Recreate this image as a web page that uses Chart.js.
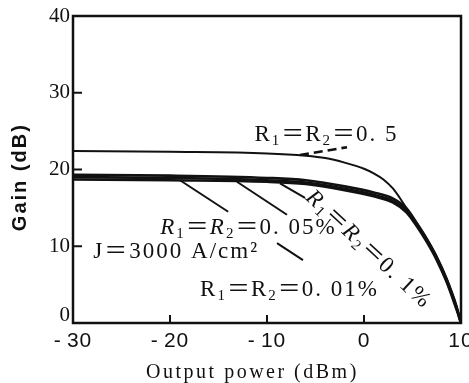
<!DOCTYPE html>
<html>
<head>
<meta charset="utf-8">
<script src="https://cdn.jsdelivr.net/npm/chart.js@4.4.0/dist/chart.umd.min.js"></script>
<style>
    html, body { margin: 0; padding: 0; background: #fff; }
    #wrap { width: 469px; height: 383px; }
</style>
</head>
<body>
<div id="wrap"><canvas id="gainChart"></canvas></div>
<script>
// output power (dBm) / gain (dB)
const powerUpper = [-30, -20, -10, -6, -4, -2, 0, 1, 2, 3, 4, 4.4, 5.5, 6.5, 7.5, 8.5, 9.5, 10];
const gainR05    = [22.4, 22.3, 22.1, 21.8, 21.5, 20.9, 20.1, 19.5, 18.7, 17.5, 15.7, 14.9, 12.9, 10.9, 8.6, 5.8, 2.3, 0];

const powerLower = [-30, -20, -10, -6, -2, 1, 3, 4.4, 5.5, 6.5, 7.5, 8.5, 9.5, 10];
const gainR01    = [19.3, 19.2, 18.9, 18.6, 17.8, 17.0, 16.2, 14.9, 12.9, 10.9, 8.6, 5.8, 2.3, 0];
const gainR005   = [19.0, 18.9, 18.6, 18.3, 17.5, 16.7, 15.9, 14.6, 12.7, 10.7, 8.4, 5.6, 2.1, 0];
const gainR001   = [18.7, 18.6, 18.4, 18.1, 17.3, 16.5, 15.7, 14.4, 12.5, 10.5, 8.2, 5.4, 1.9, 0];

const xTicks = [-30, -20, -10, 0, 10];
const yTicks = [0, 10, 20, 30, 40];

// leader lines from the curves to their labels (data coords)
const leaders = [
    { pts: [[-18.97, 18.6], [-14.0, 14.5]] },
    { pts: [[-13.1, 18.4], [-7.94, 14.1]] },
    { pts: [[-8.66, 18.2], [-6.08, 16.3]] },
    { pts: [[-8.97, 10.4], [-6.29, 8.2]] },
    { pts: [[-6.6, 21.9], [-1.75, 22.9]], dash: [9, 5] }
];

const toXY = (xs, ys) => xs.map((x, i) => ({ x: x, y: ys[i] }));

const curve = (data, w) => ({
    data: data,
    borderColor: '#111',
    borderWidth: w,
    pointRadius: 0,
    fill: false,
    cubicInterpolationMode: 'monotone'
});

const datasets = [
    curve(toXY(powerUpper, gainR05), 2),
    curve(toXY(powerLower, gainR01), 2.6),
    curve(toXY(powerLower, gainR005), 2.6),
    curve(toXY(powerLower, gainR001), 2.6)
];
leaders.forEach(l => {
    datasets.push({
        data: l.pts.map(p => ({ x: p[0], y: p[1] })),
        borderColor: '#111',
        borderWidth: l.dash ? 2.6 : 2,
        borderDash: l.dash || [],
        pointRadius: 0,
        tension: 0
    });
});

const SERIF = '"Liberation Serif", "Noto Sans CJK SC", serif';

// draws R1=R2=... with small subscript digits
function drawRich(ctx, parts, x, y, size) {
    let cx = x;
    ctx.letterSpacing = '2px';
    parts.forEach(p => {
        const s = p.sub ? Math.round(size * 0.65) : size;
        ctx.font = (p.it ? 'italic ' : '') + s + 'px ' + SERIF;
        ctx.fillText(p.t, cx, y + (p.sub ? size * 0.16 : 0));
        cx += ctx.measureText(p.t).width + (p.gap || 0);
    });
    ctx.letterSpacing = '0px';
}

const rLabel = (val, it) => [
    { t: 'R', it: it }, { t: '1', sub: true }, { t: '＝', gap: -1 },
    { t: 'R', it: it }, { t: '2', sub: true }, { t: '＝', gap: -1 },
    { t: val }
];

const notes = [
    { parts: rLabel('0. 5', false), at: [-11.3, 23.7], size: 23 },
    { parts: rLabel('0. 05%', true), at: [-21.0, 11.6], size: 23 },
    { parts: [{ t: 'J＝3000 A/cm²' }], at: [-27.9, 8.5], size: 23 },
    { parts: rLabel('0. 01%', false), at: [-16.9, 3.5], size: 23 },
    { parts: rLabel('0. 1%', true), at: [-6.1, 16.2], size: 23, rot: 43 }
];

const framePlugin = {
    id: 'frame',
    afterDraw(chart) {
        const ctx = chart.ctx;
        const a = chart.chartArea;
        const xs = chart.scales.x;
        const ys = chart.scales.y;
        ctx.save();
        ctx.strokeStyle = '#111';
        ctx.fillStyle = '#111';
        ctx.lineWidth = 2.5;
        ctx.strokeRect(a.left, a.top, a.right - a.left, a.bottom - a.top);

        // inner tick marks
        ctx.lineWidth = 2;
        xTicks.slice(1, -1).forEach(v => {
            const px = xs.getPixelForValue(v);
            ctx.beginPath();
            ctx.moveTo(px, a.bottom);
            ctx.lineTo(px, a.bottom - 8);
            ctx.stroke();
        });
        yTicks.slice(1, -1).forEach(v => {
            const py = ys.getPixelForValue(v);
            ctx.beginPath();
            ctx.moveTo(a.left, py);
            ctx.lineTo(a.left + 9, py);
            ctx.stroke();
        });

        // tick labels
        ctx.font = '21px "Liberation Sans", sans-serif';
        ctx.textAlign = 'center';
        ctx.textBaseline = 'middle';
        ctx.letterSpacing = '1px';
        xTicks.forEach(v => {
            ctx.fillText(String(v).replace('-', '-\u2009'), xs.getPixelForValue(v), a.bottom + 18);
        });
        ctx.font = '21px ' + SERIF;
        ctx.textAlign = 'right';
        ctx.letterSpacing = '0px';
        yTicks.forEach(v => {
            ctx.fillText(String(v), a.left - 3, ys.getPixelForValue(v) - (v === 0 ? 8 : 0));
        });

        // axis titles
        ctx.font = '20px ' + SERIF;
        ctx.letterSpacing = '2.5px';
        ctx.textAlign = 'center';
        ctx.fillText('Output power (dBm)', xs.getPixelForValue(-11.5), a.bottom + 50);
        ctx.save();
        ctx.font = 'bold 20px "Liberation Sans Narrow", "Liberation Sans", sans-serif';
        ctx.letterSpacing = '2px';
        ctx.translate(20, ys.getPixelForValue(19));
        ctx.rotate(-Math.PI / 2);
        ctx.fillText('Gain (dB)', 0, 0);
        ctx.restore();

        // curve labels
        ctx.textAlign = 'left';
        ctx.textBaseline = 'alphabetic';
        notes.forEach(n => {
            const px = xs.getPixelForValue(n.at[0]);
            const py = ys.getPixelForValue(n.at[1]);
            ctx.save();
            ctx.translate(px, py);
            if (n.rot) ctx.rotate(n.rot * Math.PI / 180);
            drawRich(ctx, n.parts, 0, 0, n.size);
            ctx.restore();
        });
        ctx.restore();
    }
};

new Chart(document.getElementById('gainChart'), {
    type: 'line',
    data: { datasets: datasets },
    options: {
        responsive: true,
        maintainAspectRatio: false,
        animation: false,
        layout: { padding: { left: 73, right: 8, top: 16, bottom: 60 } },
        plugins: { legend: { display: false }, tooltip: { enabled: false } },
        scales: {
            x: {
                type: 'linear', min: -30, max: 10,
                ticks: { display: false },
                grid: { display: false, drawTicks: false },
                border: { display: false }
            },
            y: {
                type: 'linear', min: 0, max: 40,
                ticks: { display: false },
                grid: { display: false, drawTicks: false },
                border: { display: false }
            }
        }
    },
    plugins: [framePlugin]
});
</script>
</body>
</html>
